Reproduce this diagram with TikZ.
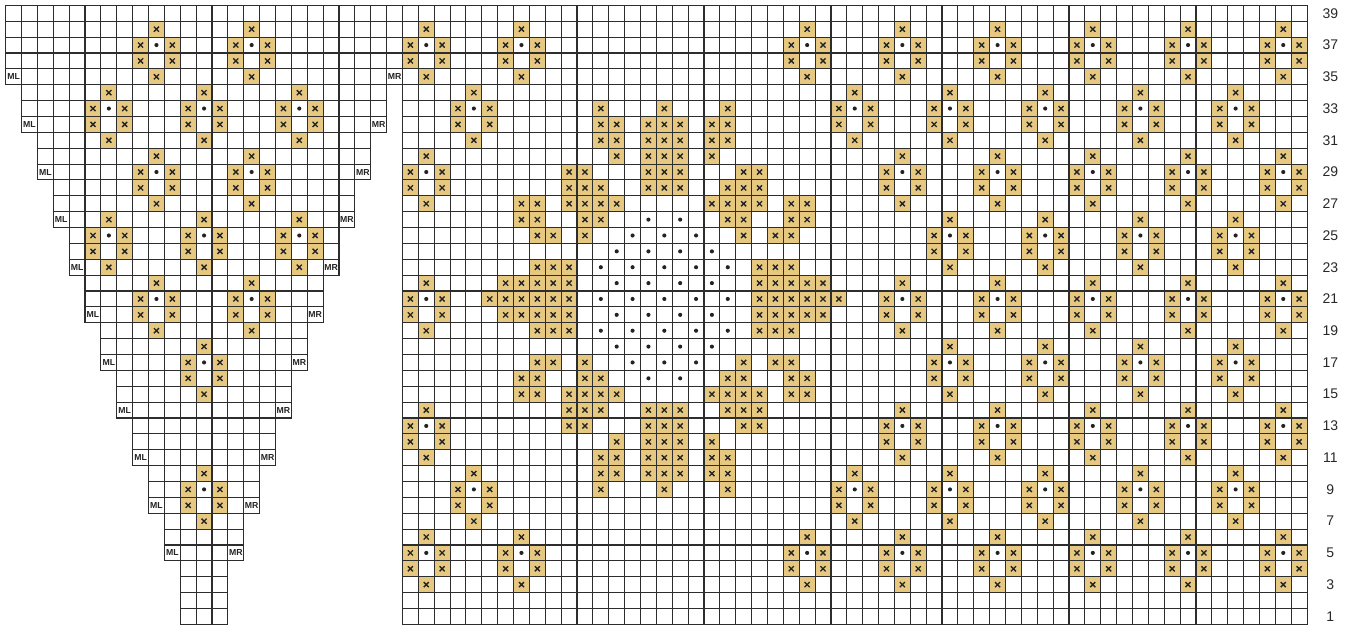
\documentclass[tikz,border=0pt]{standalone}
\usepackage{fontspec}
\setmainfont{Liberation Sans}
\newfontfamily\numfont{Liberation Sans}
\definecolor{gold}{RGB}{230,200,128}
\definecolor{gridc}{RGB}{45,45,45}
\definecolor{markc}{RGB}{35,35,35}
\definecolor{numc}{RGB}{40,40,40}
\tikzset{
  gridl/.style={draw=gridc, line width=1.1pt, line cap=rect},
  xline/.style={draw=markc, line width=1.35pt},
  lab/.style={inner sep=0pt, font=\bfseries\fontsize{8.7}{9}\selectfont, text=markc},
  rownum/.style={inner sep=0pt, font=\numfont\fontsize{14}{14}\selectfont, text=numc}
}
\newcommand{\goldx}[2]{%
  \fill[gold] ({#1-1},{#2-1}) rectangle ({#1},{#2});
  \draw[xline] ({#1-0.5-0.16},{#2-0.5-0.16}) -- ({#1-0.5+0.16},{#2-0.5+0.16})
               ({#1-0.5-0.16},{#2-0.5+0.16}) -- ({#1-0.5+0.16},{#2-0.5-0.16});}
\newcommand{\dotc}[2]{\fill[markc] ({#1-0.5},{#2-0.5}) circle (0.13);}
\newcommand{\motif}[2]{%
  \goldx{#1}{#2}
  \goldx{#1-1}{#2-1} \dotc{#1}{#2-1} \goldx{#1+1}{#2-1}
  \goldx{#1-1}{#2-2} \goldx{#1+1}{#2-2}
  \goldx{#1}{#2-3}}
\newcommand{\cellgrid}[4]{% x0, y0, x1, y1 (integers)
  \foreach \gx in {#1,...,#3} {\draw[gridl] (\gx,#2) -- (\gx,#4);}
  \foreach \gy in {#2,...,#4} {\draw[gridl] (#1,\gy) -- (#3,\gy);}}
\begin{document}
\begin{tikzpicture}[x=15.87pt,y=15.87pt]
\useasboundingbox (-0.359,-0.296) rectangle (85.40,39.339);
% ---- left chart motifs
\foreach \c in {10,16} {\motif{\c}{38} \motif{\c}{30} \motif{\c}{22}}
\foreach \c in {7,13,19} {\motif{\c}{34} \motif{\c}{26}}
\motif{13}{18}
\motif{13}{10}
% ---- right chart lattice motifs
\foreach \c in {27,33,51,57,63,69,75,81} {\motif{\c}{38} \motif{\c}{6}}
\foreach \c in {30,54,60,66,72,78} {\motif{\c}{34} \motif{\c}{10}}
\foreach \c in {27,57,63,69,75,81} {\motif{\c}{30} \motif{\c}{22} \motif{\c}{14}}
\foreach \c in {60,66,72,78} {\motif{\c}{26} \motif{\c}{18}}
% ---- central motif (mirrored about row 21)
\foreach \r/\l in {33/{13,17,21}, 32/{13,14,16,17,18,20,21}, 31/{13,14,16,17,18,20,21},
  30/{14,16,17,18,20}, 29/{11,12,16,17,18,22,23}, 28/{11,12,13,16,17,18,21,22,23},
  27/{8,9,11,12,13,14,20,21,22,23,25,26}, 26/{8,9,12,13,21,22,25,26},
  25/{9,10,12,22,24,25}, 23/{9,10,11,23,24,25}, 22/{7,8,9,10,11,23,24,25,26,27}} {
  \foreach \j in \l {\goldx{\j+25}{\r} \goldx{\j+25}{42-\r}}
}
\foreach \j in {6,7,8,9,10,11,23,24,25,26,27,28} {\goldx{\j+25}{21}}
\foreach \r/\l in {26/{16,18}, 25/{15,17,19}, 24/{14,16,18,20}, 23/{13,15,17,19,21}, 22/{14,16,18,20}} {
  \foreach \j in \l {\dotc{\j+25}{\r} \dotc{\j+25}{42-\r}}
}
\foreach \j in {13,15,17,19,21} {\dotc{\j+25}{21}}
% ---- grids
\cellgrid{25}{0}{82}{39}
\foreach \a/\b/\rl/\rh in {0/25/34/39, 1/24/31/34, 2/23/28/31, 3/22/25/28, 4/21/22/25,
  5/20/19/22, 6/19/16/19, 7/18/13/16, 8/17/10/13, 9/16/7/10, 10/15/4/7, 11/14/0/4} {
  \cellgrid{\a}{\rl}{\b}{\rh}
}
% ---- ML / MR labels
\foreach \r/\a/\b in {35/1/25, 32/2/24, 29/3/23, 26/4/22, 23/5/21, 20/6/20,
  17/7/19, 14/8/18, 11/9/17, 8/10/16, 5/11/15} {
  \node[lab] (ml\r) at ({\a-0.5},{\r-0.5}) {ML};
  \node[lab] (mr\r) at ({\b-0.5},{\r-0.5}) {MR};
}
% ---- row numbers
\foreach \r in {1,3,...,39} {\node[rownum] (n\r) at (83.47,{\r-0.5}) {\r};}
\end{tikzpicture}
\end{document}
